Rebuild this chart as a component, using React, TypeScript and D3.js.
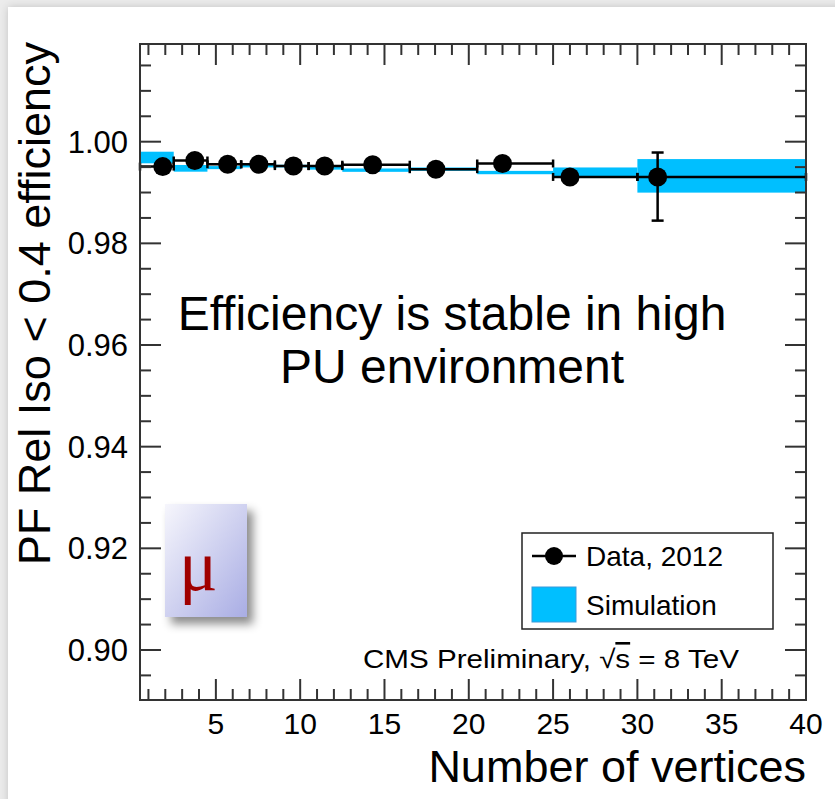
import * as d3 from "d3";

// bins of number of vertices
const binLow = [0.5, 2.5, 4.5, 6.5, 8.5, 10.5, 12.5, 16.5, 20.5, 25, 30];
const binHigh = [2.5, 4.5, 6.5, 8.5, 10.5, 12.5, 16.5, 20.5, 25, 30, 40];

// data 2012 (tag and probe)
const dataX = [1.85, 3.75, 5.7, 7.55, 9.6, 11.45, 14.3, 18.05, 22.0, 26.0, 31.2];
const dataEff = [0.9951, 0.9963, 0.99555, 0.99555, 0.9952, 0.9952, 0.99547, 0.99459, 0.99571, 0.99307, 0.99307];
const dataErrUp = [0.0008, 0.0003, 0.0002, 0.0002, 0.0002, 0.0002, 0.0002, 0.0002, 0.0003, 0.0004, 0.0048];
const dataErrDown = [0.0012, 0.0003, 0.0002, 0.0002, 0.0002, 0.0002, 0.0002, 0.0002, 0.0003, 0.0004, 0.0086];

// simulation band
const simEff = [0.99689, 0.99476, 0.9949, 0.9952, 0.9952, 0.9948, 0.9944, 0.9946, 0.99393, 0.994, 0.99328];
const simErr = [0.00114, 0.00066, 0.0003, 0.00026, 0.00026, 0.0003, 0.00033, 0.00033, 0.00033, 0.00093, 0.0033];

const xTicks = [5, 10, 15, 20, 25, 30, 35, 40];
const yTicks = [0.9, 0.92, 0.94, 0.96, 0.98, 1.0];

const FONT = "'Liberation Sans', Arial, Helvetica, sans-serif";
const BLUE = "#00bfff";

const X0 = 140, X1 = 806, Y0 = 44, Y1 = 700;

export default function App() {
  const x = d3.scaleLinear().domain([0.5, 40]).range([X0, X1]);
  const y = d3.scaleLinear().domain([0.89016, 1.01922]).range([Y1, Y0]);

  const xMinor = d3.range(1, 41, 1).filter((v) => x(v) <= X1);
  const yMinor = d3.range(0, 27).map((i) => 0.89 + i * 0.005).filter((v) => y(v) >= Y0 - 0.5 && y(v) <= Y1 + 0.5);

  return (
    <svg width={835} height={799} style={{ position: "absolute", left: 0, top: 0 }} fontFamily={FONT}>
      <defs>
        <filter id="panelShadow" x="-5%" y="-5%" width="110%" height="110%">
          <feDropShadow dx={0} dy={0} stdDeviation={4} floodColor="#000" floodOpacity={0.18} />
        </filter>
        <filter id="muShadow" x="-30%" y="-30%" width="170%" height="170%">
          <feDropShadow dx={6} dy={7} stdDeviation={5} floodColor="#000" floodOpacity={0.45} />
        </filter>
        <linearGradient id="muGrad" x1="0" y1="0" x2="1" y2="1">
          <stop offset="0" stopColor="#f6f6fc" />
          <stop offset="1" stopColor="#a9ade4" />
        </linearGradient>
      </defs>

      <rect width={835} height={799} fill="#ececec" />
      <rect x={8} y={7} width={840} height={810} fill="#fff" filter="url(#panelShadow)" />

      {/* simulation bands */}
      {simEff.map((v, i) => (
        <rect key={"s" + i} x={x(binLow[i])} width={x(binHigh[i]) - x(binLow[i])}
          y={y(v + simErr[i])} height={y(v - simErr[i]) - y(v + simErr[i])} fill={BLUE} />
      ))}

      {/* data */}
      {dataEff.map((v, i) => {
        const cy = y(v);
        return (
          <g key={"d" + i} stroke="#000" strokeWidth={2.5}>
            <line x1={x(binLow[i])} x2={x(binHigh[i])} y1={cy} y2={cy} />
            <line x1={x(binLow[i])} x2={x(binLow[i])} y1={cy - 4} y2={cy + 4} />
            <line x1={x(binHigh[i])} x2={x(binHigh[i])} y1={cy - 4} y2={cy + 4} />
            <line x1={x(dataX[i])} x2={x(dataX[i])} y1={y(v + dataErrUp[i])} y2={y(v - dataErrDown[i])} />
            {dataErrUp[i] > 0.002 && (
              <>
                <line x1={x(dataX[i]) - 6} x2={x(dataX[i]) + 6} y1={y(v + dataErrUp[i])} y2={y(v + dataErrUp[i])} />
                <line x1={x(dataX[i]) - 6} x2={x(dataX[i]) + 6} y1={y(v - dataErrDown[i])} y2={y(v - dataErrDown[i])} />
              </>
            )}
            <circle cx={x(dataX[i])} cy={cy} r={9.5} fill="#000" stroke="none" />
          </g>
        );
      })}

      {/* frame and ticks */}
      <rect x={X0} y={Y0} width={X1 - X0} height={Y1 - Y0} fill="none" stroke="#333" strokeWidth={2} />
      <g stroke="#333" strokeWidth={2}>
        {xMinor.map((v) => {
          const len = v % 5 === 0 ? 21 : 11;
          return (
            <g key={"xt" + v}>
              <line x1={x(v)} x2={x(v)} y1={Y1} y2={Y1 - len} />
              <line x1={x(v)} x2={x(v)} y1={Y0} y2={Y0 + len} />
            </g>
          );
        })}
        {yMinor.map((v, i) => {
          const major = yTicks.some((t) => Math.abs(t - v) < 1e-6);
          const len = major ? 21 : 11;
          return (
            <g key={"yt" + i}>
              <line x1={X0} x2={X0 + len} y1={y(v)} y2={y(v)} />
              <line x1={X1} x2={X1 - len} y1={y(v)} y2={y(v)} />
            </g>
          );
        })}
      </g>

      {/* tick labels */}
      {xTicks.map((t) => (
        <text key={"xl" + t} x={x(t)} y={734} textAnchor="middle" fontSize={30} fill="#000">{t}</text>
      ))}
      {yTicks.map((t) => (
        <text key={"yl" + t} x={128} y={y(t)} dy="0.35em" textAnchor="end" fontSize={31} fill="#000">{t.toFixed(2)}</text>
      ))}

      {/* axis titles */}
      <text x={806} y={782} textAnchor="end" fontSize={45} fill="#000">Number of vertices</text>
      <text transform="translate(50,42) rotate(-90)" textAnchor="end" fontSize={45} fill="#000">PF Rel Iso &lt; 0.4 efficiency</text>

      {/* annotation */}
      <text x={452} y={330} textAnchor="middle" fontSize={48} fill="#000">Efficiency is stable in high</text>
      <text x={452} y={383} textAnchor="middle" fontSize={48} fill="#000">PU environment</text>

      {/* legend */}
      <rect x={522} y={533} width={251} height={96} fill="#fff" stroke="#222" strokeWidth={1.5} />
      <line x1={532} x2={576} y1={556} y2={556} stroke="#000" strokeWidth={2.5} />
      <circle cx={554} cy={556} r={9} fill="#000" />
      <text x={586} y={566} fontSize={28} fill="#000">Data, 2012</text>
      <rect x={532} y={587} width={44} height={35} fill={BLUE} stroke="#3a9ad9" strokeWidth={1} />
      <text x={586} y={615} fontSize={28} fill="#000">Simulation</text>

      <text x={363} y={668} fontSize={26} fill="#000" textLength={376} lengthAdjust="spacingAndGlyphs">
        CMS Preliminary,  √<tspan style={{ textDecoration: "overline" }}>s</tspan> = 8 TeV
      </text>

      {/* muon badge */}
      <rect x={165} y={504} width={82} height={113} fill="url(#muGrad)" filter="url(#muShadow)" />
      <text x={179} y={590} fontSize={72} fill="#a00000" fontFamily="'Liberation Serif', 'DejaVu Serif', serif">μ</text>
    </svg>
  );
}
